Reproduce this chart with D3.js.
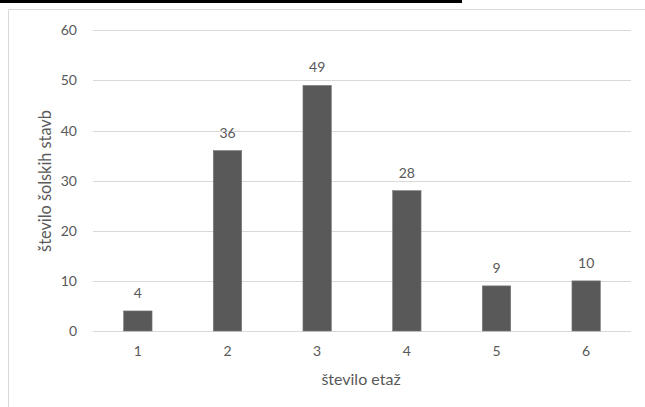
<!DOCTYPE html>
<html><head><meta charset="utf-8">
<script src="https://cdn.jsdelivr.net/npm/d3@7"></script>
<style>
html,body{margin:0;padding:0;background:#fff;}
svg{display:block;font-family:Lato,"Open Sans",sans-serif;}
</style></head>
<body>
<svg id="c" width="645" height="407"></svg>
<script>
const categories = ["1","2","3","4","5","6"];
const values = [4,36,49,28,9,10];
const yTicks = [0,10,20,30,40,50,60];
const xTitle = "število etaž";
const yTitle = "število šolskih stavb";

const svg = d3.select("#c");
const textColor = "#595959";
// top black strip and chart frame
svg.append("rect").attr("x",0).attr("y",0).attr("width",462).attr("height",3).attr("fill","#000");
svg.append("path").attr("d","M8.5,407 V9.5 H645").attr("fill","none").attr("stroke","#d9d9d9").attr("stroke-width",1);

const x = d3.scaleBand().domain(categories).range([93,631]).paddingInner(0.683).paddingOuter(0.3415);
const y = d3.scaleLinear().domain([0,60]).range([331,30.3]);

// gridlines
svg.append("g").selectAll("line").data(yTicks).join("line")
  .attr("x1",93).attr("x2",631)
  .attr("y1",d=>Math.round(y(d))+0.5).attr("y2",d=>Math.round(y(d))+0.5)
  .attr("stroke","#d9d9d9").attr("stroke-width",1);

// y axis labels
const ya = svg.append("g").attr("transform","translate(77,0)")
  .call(d3.axisLeft(y).tickValues(yTicks).tickSize(0).tickPadding(0));
ya.select(".domain").remove();
ya.selectAll("text").attr("fill",textColor).attr("font-size",14).attr("font-family","Lato");

// x axis labels
const xa = svg.append("g").attr("transform","translate(0,331)")
  .call(d3.axisBottom(x).tickSize(0).tickPadding(15));
xa.select(".domain").remove();
xa.selectAll("text").attr("fill",textColor).attr("font-size",14).attr("font-family","Lato");

// bars
svg.append("g").selectAll("rect").data(values).join("rect")
  .attr("x",(d,i)=>x(categories[i]))
  .attr("width",x.bandwidth())
  .attr("y",d=>y(d))
  .attr("height",d=>y(0)-y(d))
  .attr("fill","#595959").attr("stroke","#7a7a7a").attr("stroke-width",0.6);

// data labels
svg.append("g").selectAll("text").data(values).join("text")
  .attr("x",(d,i)=>x(categories[i])+x.bandwidth()/2)
  .attr("y",d=>y(d)-13)
  .attr("text-anchor","middle").attr("fill",textColor)
  .attr("font-size",14).text(d=>d);

// axis titles
svg.append("text").attr("x",361).attr("y",385).attr("text-anchor","middle")
  .attr("fill",textColor).attr("font-size",16).text(xTitle);
svg.append("text").attr("transform","translate(51,181) rotate(-90)").attr("text-anchor","middle")
  .attr("fill",textColor).attr("font-size",16.3).text(yTitle);
</script>
</body></html>
